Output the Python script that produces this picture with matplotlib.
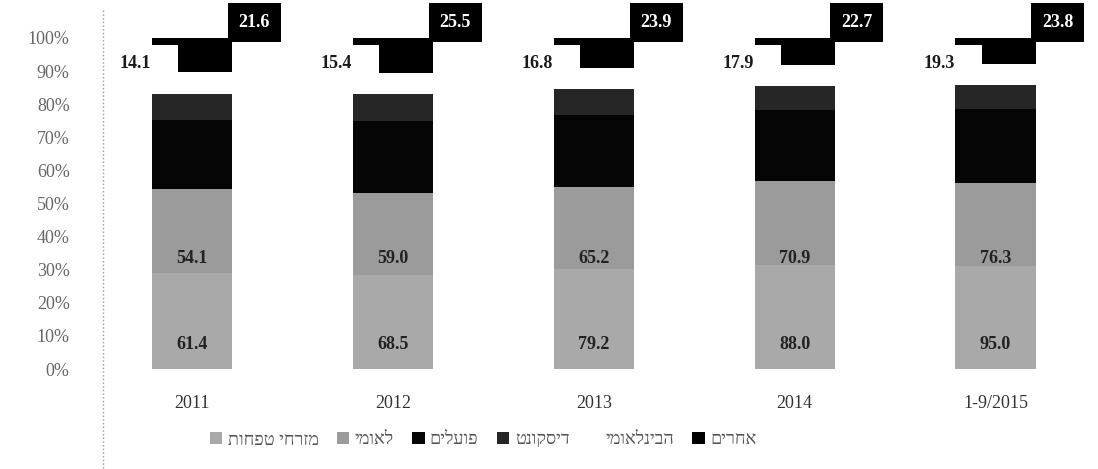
import numpy as np
import matplotlib
matplotlib.use('Agg')
from matplotlib import pyplot as plt
from matplotlib.patches import Rectangle, Patch
from matplotlib.lines import Line2D

plt.rcParams['font.family'] = ['Liberation Serif', 'DejaVu Sans']

years = ['2011', '2012', '2013', '2014', '1-9/2015']

# mortgage balances by bank (the two middle series are not labelled)
mizrahi = [61.4, 68.5, 79.2, 88.0, 95.0]
leumi = [54.1, 59.0, 65.2, 70.9, 76.3]
poalim = [44.5, 52.0, 57.0, 60.0, 68.0]
discount = [16.7, 19.6, 19.9, 20.5, 22.6]
intl = [14.1, 15.4, 16.8, 17.9, 19.3]
others = [21.6, 25.5, 23.9, 22.7, 23.8]

names = ['מזרחי טפחות', 'לאומי', 'פועלים', 'דיסקונט', 'הבינלאומי', 'אחרים']
colors = ['#a9a9a9', '#9b9b9b', '#050505', '#262626', '#ffffff', '#000000']

series = np.array([mizrahi, leumi, poalim, discount, intl, others])
pct = series / series.sum(axis=0) * 100

fig = plt.figure(figsize=(10.98, 4.69), dpi=100)
ax = fig.add_axes([103 / 1098, 100 / 469, 987 / 1098, 331 / 469])

x = np.arange(len(years))
w = 0.40
bottom = np.zeros(len(years))
for i in range(len(names)):
    ax.bar(x, pct[i], w, bottom=bottom, color=colors[i], linewidth=0)
    bottom += pct[i]

ax.set_xlim(-0.443, 4.47)
ax.set_ylim(0, 100)

# value labels inside the grey segments
for j in range(len(years)):
    ax.text(x[j], 7.3, f'{mizrahi[j]:.1f}', ha='center', va='center',
            fontsize=13, fontweight='bold', color='#222222')
    ax.text(x[j], 33.5, f'{leumi[j]:.1f}', ha='center', va='center',
            fontsize=13, fontweight='bold', color='#222222')

# labels of the top two segments, Excel style boxes
top4 = pct[:4].sum(axis=0)
for j in range(len(years)):
    left = x[j] - w / 2
    ax.add_patch(Rectangle((left - 0.005, top4[j]), 0.135, 97.9 - top4[j],
                           facecolor='white', edgecolor='none', zorder=3))
    ax.text(left - 0.005, 92.2, f'{intl[j]:.1f}', ha='right', va='center',
            fontsize=13, fontweight='bold', color='#1a1a1a', zorder=4, clip_on=False)
    ax.text(x[j] + 0.31, 104.6, f'{others[j]:.1f}', ha='center', va='center',
            fontsize=13, fontweight='bold', color='white', zorder=5, clip_on=False,
            bbox=dict(boxstyle='square,pad=0.6', facecolor='black', edgecolor='none'))

ax.set_xticks(x)
ax.set_xticklabels(years, fontsize=13, color='#333333')
ax.tick_params(axis='x', length=0, pad=19)
ax.set_yticks(np.arange(0, 101, 10))
ax.set_yticklabels([f'{v}%' for v in range(0, 101, 10)], fontsize=13, color='#666666')
ax.tick_params(axis='y', length=0, pad=24)

for s in ['top', 'right', 'bottom', 'left']:
    ax.spines[s].set_visible(False)
ax.add_line(Line2D([0, 0], [-0.30, 1.09], transform=ax.transAxes, color='#9a9a9a',
                   linestyle=':', linewidth=1.0, clip_on=False))

handles = [Patch(facecolor=c, edgecolor='none') for c in colors]
labels = [n[::-1] for n in names]  # visual order for right-to-left text
fig.legend(handles, labels, loc='center', bbox_to_anchor=(0.44, 0.062), ncol=6,
           frameon=False, fontsize=13, handlelength=0.7, handleheight=0.7,
           handletextpad=0.3, columnspacing=1.0, labelcolor='#555555')

fig.savefig('out.png', dpi=100)
